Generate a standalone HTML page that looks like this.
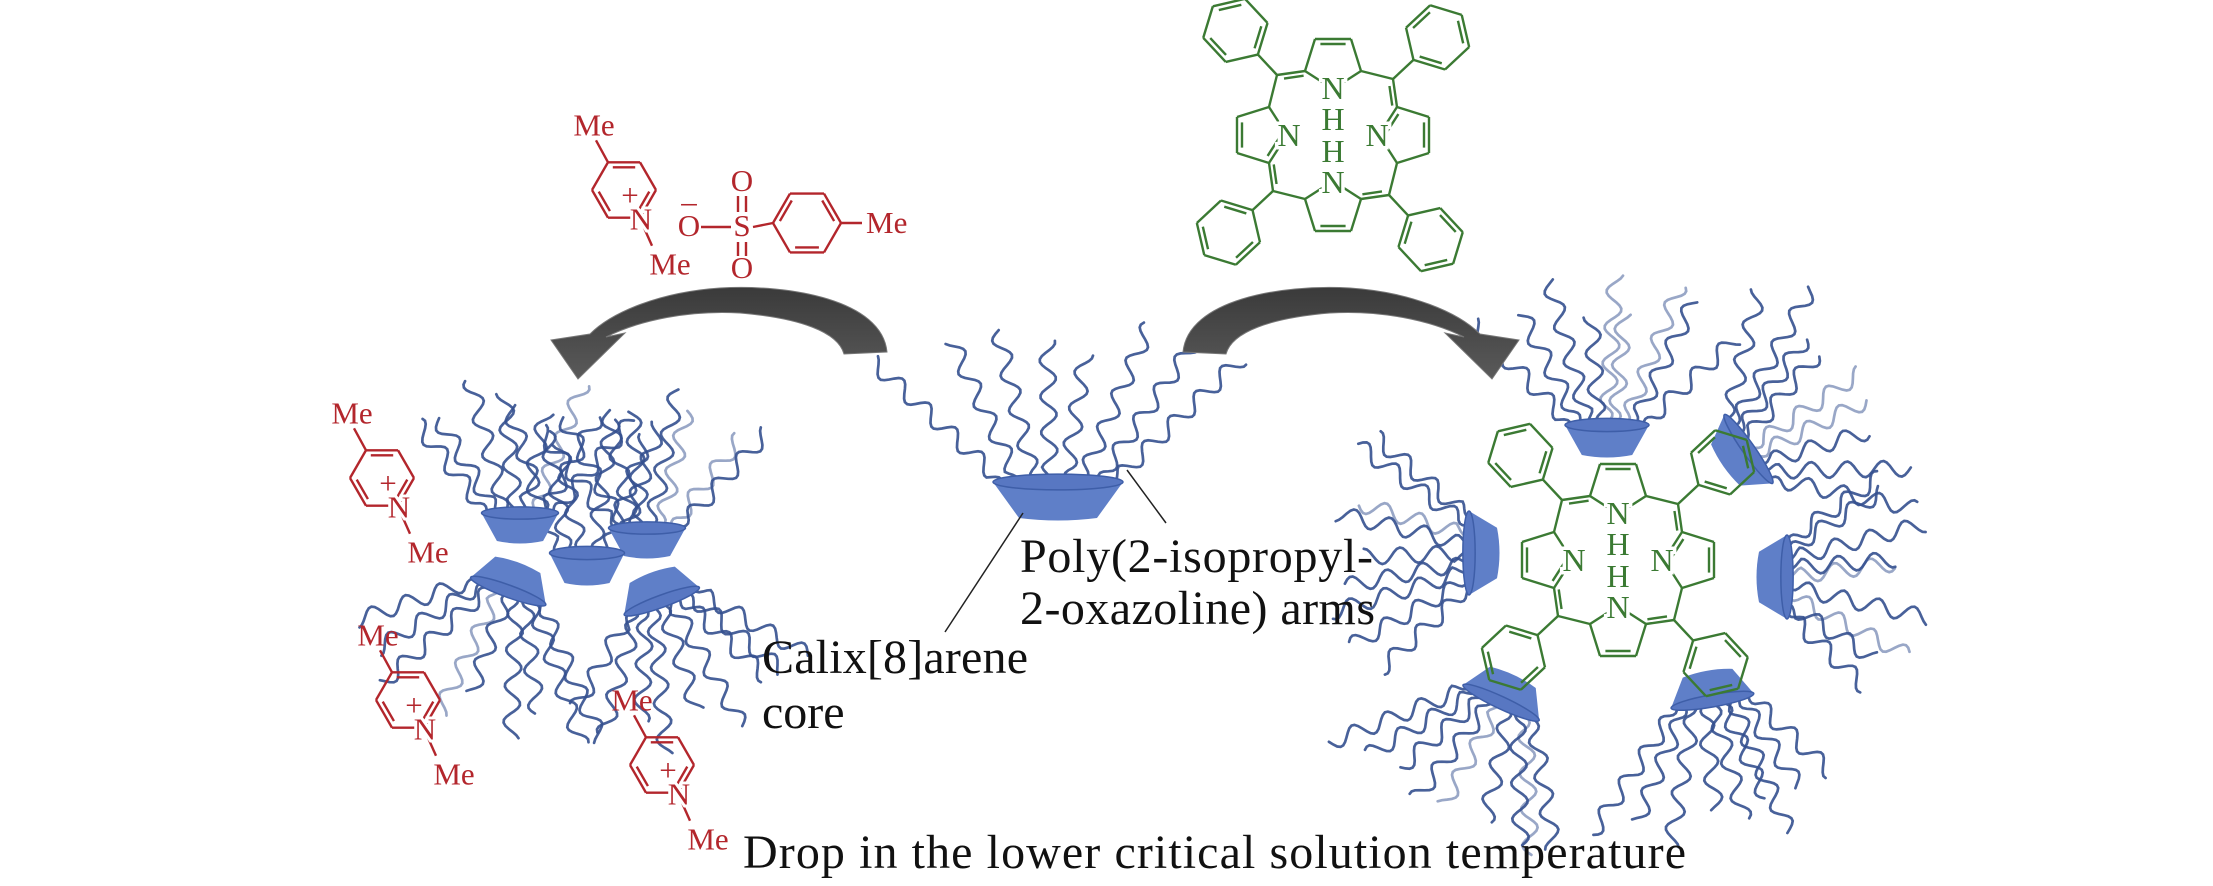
<!DOCTYPE html>
<html><head><meta charset="utf-8">
<style>
html,body{margin:0;padding:0;background:#fff;}
svg{display:block;}
.lbl{font-family:"Liberation Serif",serif;font-size:48px;fill:#111;}
.red{font-family:"Liberation Serif",serif;font-size:31px;fill:#b3262c;}
.grn{font-family:"Liberation Serif",serif;font-size:32px;fill:#3b7a33;paint-order:stroke;stroke:#fff;stroke-width:7px;}
</style></head>
<body>
<svg id="s" width="2213" height="886" viewBox="0 0 2213 886" xmlns="http://www.w3.org/2000/svg">
<rect width="2213" height="886" fill="#fff"/>
<g id="arms" fill="none" stroke-linecap="round"></g>
<g id="cups"></g>
<g id="chem" fill="none" stroke-width="2.4"></g>
<g id="txt"></g>
<defs>
<linearGradient id="ag" x1="0" y1="0" x2="0" y2="1"><stop offset="0" stop-color="#3a3a3a"/><stop offset="1" stop-color="#5a5a5a"/></linearGradient>
</defs>
<path id="arrL" d="M887,352 C882,300 790,284 720,288 C660,292 612,312 590,334 L551,340 L578,379 L625,333 L606,337 C640,320 690,310 740,313 C800,318 838,332 844,354 Z" fill="url(#ag)" stroke="#777" stroke-width="1"/>
<use href="#arrL" transform="translate(2070,0) scale(-1,1)"/>
<line x1="1023" y1="513" x2="945" y2="632" stroke="#222" stroke-width="1.5"/>
<line x1="1127" y1="470" x2="1166" y2="523" stroke="#222" stroke-width="1.5"/>
<text class="lbl" x="1020" y="572" textLength="353">Poly(2-isopropyl-</text>
<text class="lbl" x="1020" y="624" textLength="355">2-oxazoline) arms</text>
<text class="lbl" x="762" y="673" textLength="266">Calix[8]arene</text>
<text class="lbl" x="762" y="728">core</text>
<text class="lbl" x="743" y="868" textLength="943">Drop in the lower critical solution temperature</text>
</svg>
<script>
var NS="http://www.w3.org/2000/svg";
function el(p,t,a){var e=document.createElementNS(NS,t);for(var k in a)e.setAttribute(k,a[k]);document.getElementById(p).appendChild(e);return e;}
var seed=7;function rnd(){seed=(seed*16807)%2147483647;return seed/2147483647;}
function arm(x,y,ang,len,amp,wl){
 var dx=Math.sin(ang),dy=-Math.cos(ang),px=-dy,py=dx,ph=rnd()*6.28,d="M"+x.toFixed(1)+","+y.toFixed(1);
 for(var t=3;t<=len;t+=3){var o=amp*Math.sin(t/wl*6.283+ph)*Math.min(1,t/15);d+=" L"+(x+dx*t+px*o).toFixed(1)+","+(y+dy*t+py*o).toFixed(1);}
 var op=rnd()<0.18?0.5:0.9;
 el("arms","path",{d:d,stroke:"#34508f","stroke-width":2.7,opacity:op});
}
function cup(cx,cy,w,h,rot,n,len,spread){
 var g=el("cups","g",{transform:"translate("+cx+","+cy+") rotate("+rot+")"});
 var p=document.createElementNS(NS,"path");
 p.setAttribute("d","M"+(-w/2)+","+(-h/2)+" L"+(w/2)+","+(-h/2)+" L"+(w*0.3)+","+(h/2)+" Q0,"+(h/2+5)+" "+(-w*0.3)+","+(h/2)+" Z");
 p.setAttribute("fill","#5f7fc8");g.appendChild(p);
 var e=document.createElementNS(NS,"ellipse");
 e.setAttribute("cx",0);e.setAttribute("cy",-h/2);e.setAttribute("rx",w/2);e.setAttribute("ry",h*0.22);
 e.setAttribute("fill","#5877c2");e.setAttribute("stroke","#3e5ea8");e.setAttribute("stroke-width",1.5);g.appendChild(e);
 var r=rot*Math.PI/180;
 for(var i=0;i<n;i++){
  var f=n>1?i/(n-1)-0.5:0;
  var lx=f*w*0.85,ly=-h/2;
  var X=cx+lx*Math.cos(r)-ly*Math.sin(r),Y=cy+lx*Math.sin(r)+ly*Math.cos(r);
  arm(X,Y,r+f*spread+(rnd()-0.5)*0.25,len*(0.8+rnd()*0.35),8,36);
 }
}
cup(1058,500,130,36,0,8,160,1.4);
cup(520,527,77,28,0,8,125,1.5);
cup(647,542,77,28,0,8,130,1.5);
cup(587,568,75,30,0,6,140,0.8);
cup(513,578,80,28,200,9,135,1.6);
cup(657,588,80,28,160,9,135,1.6);
cup(1607,440,84,30,0,9,135,1.4);
cup(1737,457,84,28,55,9,140,1.4);
cup(1483,553,84,28,-90,9,130,1.4);
cup(1773,577,84,28,90,9,130,1.4);
cup(1507,690,84,28,205,9,135,1.4);
cup(1710,687,84,28,170,9,135,1.4);

var D=Math.PI/180,GR="#3b7a33",RD="#b3262c";
function ln(x1,y1,x2,y2,c){el("chem","line",{x1:x1,y1:y1,x2:x2,y2:y2,stroke:c});}
function dbl(x1,y1,x2,y2,cx,cy,c){ln(x1,y1,x2,y2,c);var mx=(x1+x2)/2,my=(y1+y2)/2,vx=cx-mx,vy=cy-my,L=Math.hypot(vx,vy),o=5;vx=vx/L*o;vy=vy/L*o;var sx=(x2-x1)*0.15,sy=(y2-y1)*0.15;ln(x1+sx+vx,y1+sy+vy,x2-sx+vx,y2-sy+vy,c);}
function hex(cx,cy,r,a0,c,dbls){var v=[];for(var i=0;i<6;i++){var a=a0+i*60*D;v.push([cx+r*Math.cos(a),cy+r*Math.sin(a)]);}
 for(i=0;i<6;i++){var p=v[i],q=v[(i+1)%6];if(dbls.indexOf(i)>=0)dbl(p[0],p[1],q[0],q[1],cx,cy,c);else ln(p[0],p[1],q[0],q[1],c);}return v;}
function txt(x,y,s,cls,anc){var t=el("txt","text",{x:x,y:y,"class":cls,"text-anchor":anc||"middle"});t.textContent=s;return t;}
function porph(cx,cy){
 function P(x,y,k){for(var i=0;i<k;i++){var t=x;x=-y;y=t;}return [cx+x,cy+y];}
 for(var k=0;k<4;k++){
  var N=P(0,-46,k),a1=P(-28,-64,k),a2=P(28,-64,k),b1=P(-18,-96,k),b2=P(18,-96,k),c=P(0,-75,k);
  var isNH=(k%2==0);
  if(isNH){ln(N[0],N[1],a1[0],a1[1],GR);ln(N[0],N[1],a2[0],a2[1],GR);}
  else{dbl(N[0],N[1],a1[0],a1[1],c[0],c[1],GR);ln(N[0],N[1],a2[0],a2[1],GR);}
  ln(a1[0],a1[1],b1[0],b1[1],GR);ln(a2[0],a2[1],b2[0],b2[1],GR);
  dbl(b1[0],b1[1],b2[0],b2[1],c[0],c[1],GR);
  var m=P(60,-56,k),an=P(64,-28,k);
  ln(a2[0],a2[1],m[0],m[1],GR);dbl(m[0],m[1],an[0],an[1],cx,cy,GR);
  var ux=m[0]-cx,uy=m[1]-cy,L=Math.hypot(ux,uy);ux/=L;uy/=L;
  var ip=[m[0]+ux*28,m[1]+uy*28];ln(m[0],m[1],ip[0],ip[1],GR);
  var pc=[ip[0]+ux*33,ip[1]+uy*33];var a0=Math.atan2(-uy,-ux);
  hex(pc[0],pc[1],33,a0,GR,[1,3,5]);
 }
 txt(cx,cy-36,"N","grn");txt(cx,cy-5,"H","grn");txt(cx,cy+27,"H","grn");txt(cx,cy+58,"N","grn");
 txt(cx-44,cy+11,"N","grn");txt(cx+44,cy+11,"N","grn");
}
porph(1333,135);
porph(1618,560);

function pyr(cx,cy){
 var r=32,v=hex(cx,cy,r,0,RD,[0,2,4]);
 ln(v[4][0],v[4][1],v[4][0]-12,v[4][1]-22,RD);
 txt(v[4][0]-14,v[4][1]-27,"Me","red");
 ln(v[1][0]+4,v[1][1]+10,v[1][0]+12,v[1][1]+28,RD);
 txt(v[1][0]+30,v[1][1]+57,"Me","red");
 var t=txt(v[1][0]+1,v[1][1]+12,"N","red");t.setAttribute("style","paint-order:stroke;stroke:#fff;stroke-width:6px");
 txt(v[1][0]-10,v[1][1]-12,"+","red");
}
pyr(624,190);
pyr(382,478);
pyr(408,700);
pyr(662,765);
txt(689,236,"O","red");txt(689,212,"\u2013","red");
ln(701,227,731,227,RD);
txt(742,236,"S","red");
txt(742,191,"O","red");txt(742,278,"O","red");
ln(738,196,738,212,RD);ln(746,196,746,212,RD);
ln(738,242,738,256,RD);ln(746,242,746,256,RD);
ln(753,227,773,223,RD);
hex(807,223,34,0,RD,[1,3,5]);
ln(841,223,862,223,RD);
txt(866,233,"Me","red","start");
</script>
</body></html>
